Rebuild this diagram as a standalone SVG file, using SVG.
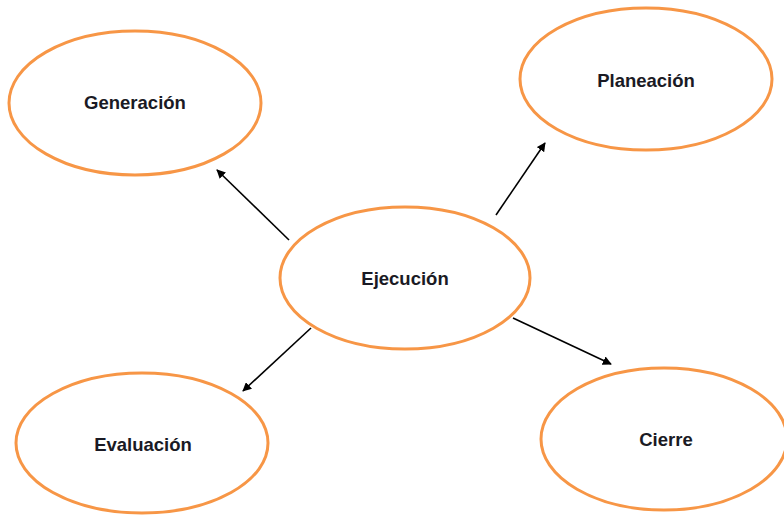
<svg xmlns="http://www.w3.org/2000/svg" width="784" height="516" viewBox="0 0 784 516">
<style>
.node ellipse{fill:#fff;stroke:#f79646;stroke-width:3}
.node text{font-family:"Liberation Sans",Arial,sans-serif;font-weight:bold;font-size:18.5px;fill:#1a1a24;text-anchor:middle;dominant-baseline:central}
.conn line{stroke:#000;stroke-width:1.6;marker-end:url(#ah)}
</style>
<defs>
<marker id="ah" viewBox="0 0 10 10" refX="9" refY="5" markerWidth="9" markerHeight="9" markerUnits="userSpaceOnUse" orient="auto">
<path d="M0,0 L10,5 L0,10 z" fill="#000"/>
</marker>
</defs>
<rect width="784" height="516" fill="#fff"/>
<g id="generacion" class="node"><ellipse cx="135" cy="103" rx="126" ry="72"/><text x="135" y="102">Generación</text></g>
<g id="planeacion" class="node"><ellipse cx="646" cy="79" rx="126" ry="71"/><text x="646" y="80">Planeación</text></g>
<g id="ejecucion" class="node"><ellipse cx="405" cy="278" rx="125" ry="71"/><text x="405" y="278">Ejecución</text></g>
<g id="evaluacion" class="node"><ellipse cx="142" cy="443" rx="126" ry="70"/><text x="143" y="444">Evaluación</text></g>
<g id="cierre" class="node"><ellipse cx="664" cy="439" rx="123" ry="71"/><text x="666" y="439">Cierre</text></g>
<g id="connectors" class="conn">
<line x1="289" y1="240" x2="217" y2="170"/>
<line x1="496" y1="215" x2="545" y2="143"/>
<line x1="311" y1="328" x2="243" y2="391"/>
<line x1="513" y1="318" x2="611" y2="364"/>
</g>
</svg>
